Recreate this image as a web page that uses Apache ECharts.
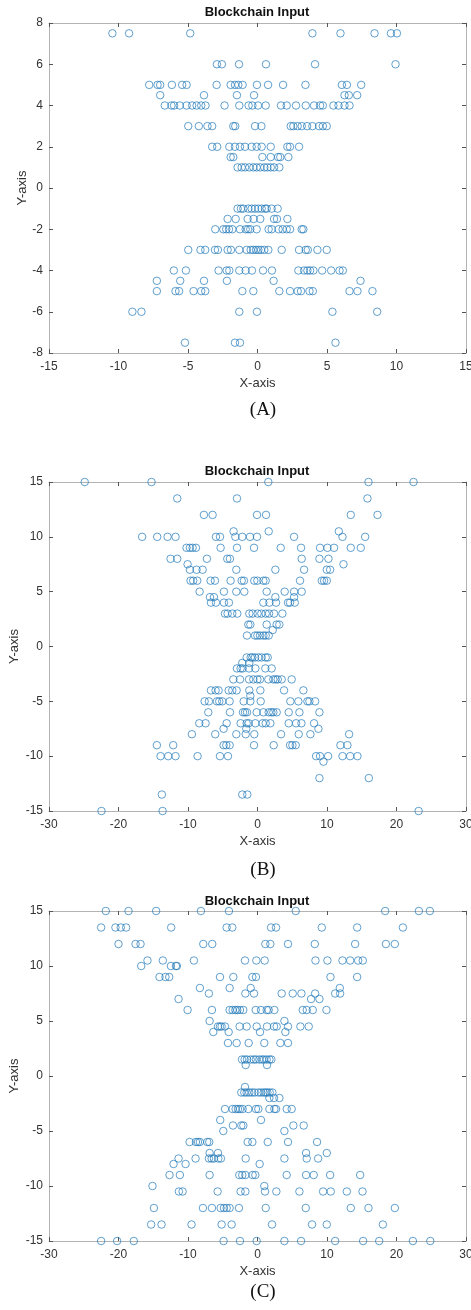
<!DOCTYPE html>
<html><head><meta charset="utf-8">
<script src="https://cdn.jsdelivr.net/npm/echarts@6/dist/echarts.min.js"></script>
<style>html,body{margin:0;padding:0;background:#fff}#c{width:471px;height:1310px}</style>
</head><body><div id="c"></div>
<script>
// Panel titles and captions
const chartTitle = "Blockchain Input";
const captions = ["(A)", "(B)", "(C)"];
const xTicksA = [-15, 15, 5];   // min, max, interval
const yTicksA = [-8, 8, 2];
const xTicksBC = [-30, 30, 10];
const yTicksBC = [-15, 15, 5];

// Panel A rows: [y, [x values]]
const rowsA = [
  [7.5, [-10.44,-9.24,-4.84,3.95,5.97,8.42,9.6,10.03]],
  [6, [-2.92,-2.56,-1.33,0.61,4.14,9.93]],
  [5, [-7.79,-7.19,-7.0,-6.16,-5.42,-5.1,-2.94,-1.93,-1.62,-1.38,-1.07,-0.04,0.76,1.84,3.45,6.07,6.43,7.46]],
  [4.5, [-7.0,-3.85,-1.48,-0.25,6.26,6.57,7.17]],
  [4, [-6.67,-6.19,-6.0,-5.59,-5.1,-4.7,-4.38,-4.05,-3.74,-2.37,-1.31,-0.64,-0.37,0.04,0.59,1.69,2.1,2.77,3.47,4.07,4.5,4.7,5.46,5.83,6.26,6.62]],
  [3, [-4.98,-4.22,-3.6,-3.26,-1.74,-1.6,-0.18,0.28,2.39,2.58,2.89,3.18,3.57,3.95,4.43,4.7,4.98]],
  [2, [-3.26,-2.9,-2.03,-1.62,-1.26,-0.9,-0.42,-0.06,0.3,0.95,2.15,2.34,2.99]],
  [1.5, [-1.93,-1.74,0.35,0.95,1.48,1.64,2.22]],
  [1, [-1.43,-1.14,-0.9,-0.59,-0.3,-0.06,0.2,0.49,0.71,0.95,1.19,1.57]],
  [-1, [-1.43,-1.19,-1.02,-0.66,-0.42,-0.18,0.06,0.3,0.54,0.66,1.02,1.45]],
  [-1.5, [-2.15,-1.57,-0.71,-0.28,0.2,1.19,1.4,2.15]],
  [-2, [-3.04,-2.46,-2.25,-2.05,-1.81,-1.26,-0.85,-0.68,-0.52,-0.06,0.8,1.02,1.52,1.81,2.1,2.34,3.18,3.3]],
  [-3, [-4.98,-4.1,-3.76,-3.06,-2.85,-2.15,-1.91,-1.31,-0.78,-0.49,-0.3,-0.11,0.06,0.25,0.49,0.78,1.74,2.99,3.47,3.62,4.31,4.98]],
  [-4, [-6.02,-5.15,-2.8,-2.22,-2.03,-1.31,-0.85,-0.4,0.4,1.04,2.94,3.35,3.59,3.78,4.02,4.65,5.3,5.9,6.14]],
  [-4.5, [-7.24,-5.56,-3.85,-2.2,1.16,7.41]],
  [-5, [-7.24,-5.9,-5.64,-4.6,-4.05,-3.76,-1.09,-0.3,1.57,2.34,2.89,3.13,3.74,3.98,6.62,7.19,8.27]],
  [-6, [-9.0,-8.35,-1.31,-0.04,5.39,8.61]],
  [-7.5, [-5.22,-1.62,-1.26,5.61]]
];

// Panel B rows
const rowsB = [
  [15, [-24.86,-15.25,1.56,15.97,22.45]],
  [13.5, [-11.55,-2.95,15.82]],
  [12, [-7.71,-6.46,-0.07,1.23,13.42,17.27]],
  [10.5, [-3.44,1.61,11.7]],
  [10, [-16.6,-14.43,-12.94,-11.79,-5.98,-5.4,-3.19,-2.19,-1.08,-0.07,5.26,12.23,15.49]],
  [9, [-10.21,-9.73,-9.34,-8.86,-5.31,-2.95,-0.5,3.34,6.27,9.0,10.06,11.02,13.42,14.86]],
  [8, [-12.51,-11.55,-7.28,-4.35,-3.96,6.36,8.91,10.21]],
  [7.5, [-10.06,12.37]],
  [7, [-9.73,-8.77,-7.9,-3.05,2.57,6.7,9.97,10.45]],
  [6, [-9.63,-9.25,-8.67,-6.75,-6.12,-3.87,-2.28,-1.95,-0.46,-0.02,0.84,1.18,6.12,9.25,9.58,9.97]],
  [5, [-8.33,-4.83,-3.05,-1.9,1.32,3.91,5.26,6.36]],
  [4.5, [-6.84,-6.27,2.57,5.26]],
  [4, [-6.7,-5.98,-4.83,-4.11,0.84,1.71,2.67,4.39,4.68,5.36]],
  [3, [-4.68,-4.3,-3.63,-2.91,-1.18,-0.7,0.02,0.55,1.18,1.66,2.38,3.58]],
  [2, [-1.32,-1.03,1.32,2.76,3.14]],
  [1.5, [2.19]],
  [1, [-1.51,-0.36,-0.02,0.36,0.84,1.18,1.61]],
  [-1, [-1.56,-0.98,-0.74,-0.36,0.12,0.6,1.18,1.47]],
  [-1.5, [-2.19,-1.18]],
  [-2, [-2.95,-2.43,-2.14,-1.22,-0.31,1.13,2.04]],
  [-3, [-3.48,-2.52,-1.22,-0.6,-0.02,0.36,1.56,2.28,2.62,2.91,3.48,4.92]],
  [-4, [-6.7,-6.03,-5.6,-4.15,-3.63,-3.0,-1.18,0.41,3.82,6.6]],
  [-4.5, [-1.03]],
  [-5, [-7.61,-6.99,-5.84,-5.5,-5.07,-4.01,-1.99,-1.03,0.46,4.73,5.88,7.18,7.47,8.29]],
  [-6, [-7.08,-3.96,-2.09,-1.8,-1.51,-0.12,0.84,1.61,1.99,2.28,2.76,4.49,6.03,8.91]],
  [-7, [-8.38,-7.47,-4.44,-2.43,-1.56,-1.27,-0.31,0.74,1.18,1.85,4.49,5.55,6.32,8.14]],
  [-7.5, [-4.88,-1.61,8.77]],
  [-8, [-9.44,-6.08,-3.05,-1.7,-0.46,3.39,5.93,7.61,13.18]],
  [-9, [-14.48,-12.13,-4.88,-4.49,-4.01,-0.5,2.33,4.68,5.02,5.5,11.93,12.94]],
  [-10, [-13.95,-12.85,-11.79,-8.62,-5.4,-4.25,8.43,9.0,10.16,12.23,13.33,14.38]],
  [-10.5, [9.49]],
  [-12, [8.91,16.02]],
  [-13.5, [-13.76,-2.19,-1.47]],
  [-15, [-22.45,-13.66,23.18]]
];

// Panel C rows
const rowsC = [
  [15, [-21.83,-18.56,-14.58,-8.14,-4.11,5.5,18.37,23.22,24.8]],
  [13.5, [-22.5,-20.44,-19.67,-18.9,-12.42,-4.44,-3.63,1.95,2.67,9.25,14.34,20.92]],
  [12, [-20.0,-17.55,-16.83,-7.8,-6.51,1.13,1.85,4.39,8.24,14.05,18.47,19.76]],
  [10.5, [-15.83,-13.62,-9.15,-1.8,-0.17,1.03,8.34,10.06,12.23,13.33,14.48,15.15]],
  [10, [-16.73,-12.46,-11.74,-11.6]],
  [9, [-14.1,-13.24,-12.7,-5.4,-3.48,-0.74,-0.22,10.5,14.34]],
  [8, [-8.29,-4.01,-0.98,11.84]],
  [7.5, [-6.99,-1.75,-0.5,3.48,5.07,6.32,8.29,11.17,11.89]],
  [7, [-11.36,7.71,8.91]],
  [6, [-10.06,-6.56,-4.01,-3.58,-3.19,-2.91,-2.52,-2.04,-0.26,0.5,1.32,1.61,2.43,6.51,7.08,7.95,9.92]],
  [5, [-6.89,3.87]],
  [4.5, [-5.69,-5.4,-5.16,-4.68,-2.57,-1.56,-0.12,1.37,2.38,2.76,4.39,6.17,7.37]],
  [4, [-6.36,-4.15,0.36,4.01]],
  [3, [-4.25,-3.0,-1.27,0.98,3.29,4.39]],
  [1.5, [-2.23,-1.85,-1.51,-0.98,-0.55,-0.22,0.26,0.65,0.94,1.32,1.71,1.99]],
  [1, [-1.7,1.37]],
  [-1, [-1.8]],
  [-1.5, [-2.33,-1.9,-1.56,-1.18,-0.79,-0.41,0.12,0.5,0.89,1.18,1.42,1.75,2.14]],
  [-2, [1.71,2.38,3.15]],
  [-3, [-4.68,-3.58,-3.15,-2.81,-2.52,-2.14,-1.32,-0.22,0.12,1.71,2.43,2.67,4.2,4.92]],
  [-4, [-5.36,0.5]],
  [-4.5, [-3.53,-2.33,-2.04,5.16,6.65]],
  [-5, [-4.92,3.87]],
  [-6, [-9.77,-8.86,-8.57,-8.29,-7.23,-6.94,-1.42,-0.74,1.47,4.39,8.57]],
  [-7, [-6.89,-5.69,6.99,9.97]],
  [-7.5, [-11.36,-8.91,-6.99,-6.6,-6.27,-5.64,-5.26,-1.7,3.87,7.08,8.72]],
  [-8, [-12.08,-10.35,0.31]],
  [-9, [-12.66,-11.17,-6.89,-2.62,-2.19,-1.75,-0.7,-0.31,4.2,6.99,8.09,10.45,14.77]],
  [-10, [-15.11,0.98]],
  [-10.5, [-11.31,-10.78,-5.74,-2.43,-1.75,1.08,2.71,6.03,9.44,10.54,12.85,15.11]],
  [-12, [-14.91,-7.85,-6.56,-5.31,-4.83,-4.44,-4.01,-2.67,1.18,6.94,13.42,15.97,19.76]],
  [-13.5, [-15.3,-13.81,-9.49,-5.16,-3.72,2.09,7.85,9.97,18.04]],
  [-15, [-22.5,-20.2,-17.8,-4.88,-2.52,-0.12,3.87,6.27,11.17,15.2,17.51,22.36,24.86]]
];

function flatten(rows){ const out=[]; rows.forEach(r=>r[1].forEach(x=>out.push([x,r[0]]))); return out; }

const FONT = "Liberation Sans";
const AX = '#b3b3b3';
const grids = [
  {left:49, top:23, width:417, height:330, containLabel:false, outerBoundsMode:'none'},
  {left:49, top:482, width:417, height:329, containLabel:false, outerBoundsMode:'none'},
  {left:49, top:911, width:417, height:330, containLabel:false, outerBoundsMode:'none'}
];
const xT = [xTicksA, xTicksBC, xTicksBC];
const yT = [yTicksA, yTicksBC, yTicksBC];
const yNameGaps = [20, 28.5, 28.5];
const xAxes=[], yAxes=[], series=[];
const allRows=[rowsA, rowsB, rowsC];
for (let i=0;i<3;i++){
  const base = {gridIndex:i, type:'value', splitLine:{show:false},
    axisLine:{show:true, onZero:false, lineStyle:{color:AX, width:1}},
    axisTick:{show:true, inside:true, length:4, lineStyle:{color:'#555'}}};
  xAxes.push(Object.assign({}, base, {position:'bottom', min:xT[i][0], max:xT[i][1], interval:xT[i][2],
    name:'X-axis', nameLocation:'middle', nameGap:24, nameMoveOverlap:false,
    nameTextStyle:{fontFamily:FONT, fontSize:13, color:'#333'},
    axisLabel:{fontFamily:FONT, fontSize:12, color:'#333', margin:8}}));
  xAxes.push(Object.assign({}, base, {position:'top', min:xT[i][0], max:xT[i][1], interval:xT[i][2],
    axisLabel:{show:false}}));
  yAxes.push(Object.assign({}, base, {position:'left', min:yT[i][0], max:yT[i][1], interval:yT[i][2],
    name:'Y-axis', nameLocation:'middle', nameGap:yNameGaps[i], nameMoveOverlap:false,
    nameTextStyle:{fontFamily:FONT, fontSize:13, color:'#333'},
    axisLabel:{fontFamily:FONT, fontSize:12, color:'#333', margin:6}}));
  yAxes.push(Object.assign({}, base, {position:'right', min:yT[i][0], max:yT[i][1], interval:yT[i][2],
    axisLabel:{show:false}}));
  series.push({type:'scatter', xAxisIndex:2*i, yAxisIndex:2*i, data:flatten(allRows[i]),
    symbol:'circle', symbolSize:7.5, silent:true,
    itemStyle:{color:'rgba(0,0,0,0)', borderColor:'#1f78b8', borderWidth:1, opacity:0.7}});
}
const titleTops=[6,465,895];
const capTops=[401,861,1283];
const titles=[];
for (let i=0;i<3;i++){
  titles.push({text:chartTitle, left:257, top:titleTops[i], textAlign:'center', padding:0,
    textStyle:{fontFamily:FONT, fontSize:13, fontWeight:'bold', color:'#111'}});
  titles.push({text:captions[i], left:263, top:capTops[i], textAlign:'center', padding:0,
    textStyle:{fontFamily:'Liberation Serif', fontSize:19, fontWeight:'normal', color:'#111'}});
}
const chart = echarts.init(document.getElementById('c'), null, {renderer:'canvas'});
chart.setOption({animation:false, backgroundColor:'#fff', title:titles, grid:grids,
  xAxis:xAxes, yAxis:yAxes, series:series});
</script></body></html>
